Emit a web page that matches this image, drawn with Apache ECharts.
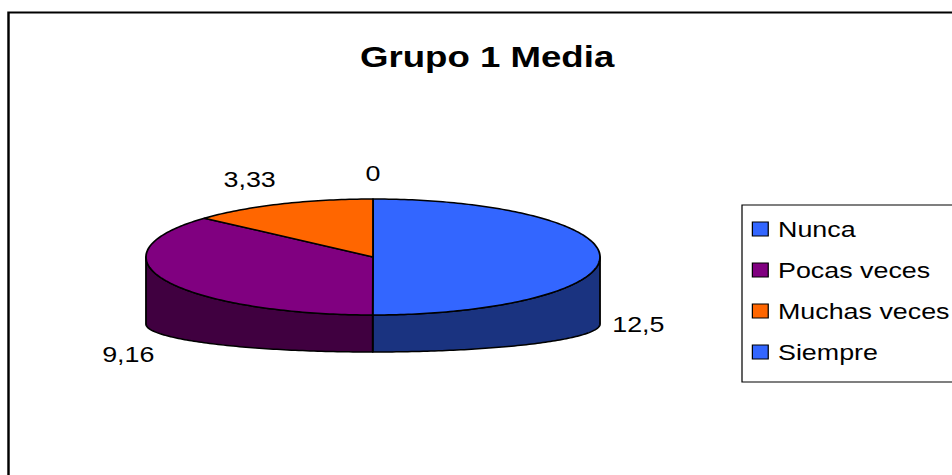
<!DOCTYPE html>
<html>
<head>
<meta charset="utf-8">
<script src="https://cdn.jsdelivr.net/npm/echarts@6/dist/echarts.min.js"></script>
<style>
  html, body { margin: 0; padding: 0; background: #fff; overflow: hidden; }
  #wrap { width: 952px; height: 475px; overflow: hidden; position: relative; }
  /* the chart is laid out on a narrower canvas and widened horizontally */
  #chart { width: 780px; height: 475px; transform: scaleX(1.2205); transform-origin: 0 0; }
</style>
</head>
<body>
<div id="wrap"><div id="chart"></div></div>
<script>
// ---- data ----
const titleText = 'Grupo 1 Media';
const categories = ['Nunca', 'Pocas veces', 'Muchas veces', 'Siempre'];
const values = [12.5, 9.16, 3.33, 0];
const topColors = ['#3366FF', '#800080', '#FF6600', '#3366FF'];
const sideColors = ['#1A3380', '#400040', '#803300', '#1A3380'];

// ---- 3D pie geometry (layout units of the chart canvas) ----
const SX = 1.2205;
const PIE = { cx: 373 / SX, rx: 227 / SX, cy: 257, ry: 58, cyBottom: 324, ryBottom: 28 };
const FONT = 'Liberation Sans, Arial, sans-serif';

const total = values.reduce((a, b) => a + b, 0);
const starts = [];
values.reduce((acc, v, i) => { starts[i] = acc; return acc + v; }, 0);

// angle measured clockwise from 12 o'clock
function topPt(a) { return [PIE.cx + PIE.rx * Math.sin(a), PIE.cy - PIE.ry * Math.cos(a)]; }
function botPt(a) { return [PIE.cx + PIE.rx * Math.sin(a), PIE.cyBottom - PIE.ryBottom * Math.cos(a)]; }
function arc(fn, a, b) {
  const n = Math.max(2, Math.ceil(Math.abs(b - a) / (Math.PI / 180)));
  const pts = [];
  for (let k = 0; k <= n; k++) pts.push(fn(a + (b - a) * k / n));
  return pts;
}
function fmt(v) { return String(v).replace('.', ','); }

function makeRender(i) {
  return function (params, api) {
    const v = api.value(0);
    const a0 = starts[i] / total * Math.PI * 2;
    const a1 = (starts[i] + v) / total * Math.PI * 2;
    const children = [];
    if (v > 0) {
      // visible side wall (front half of the disc)
      const fa = Math.max(a0, Math.PI / 2), fb = Math.min(a1, Math.PI * 1.5);
      if (fb > fa) {
        const pts = arc(topPt, fa, fb).concat(arc(botPt, fb, fa));
        children.push({
          type: 'polygon', z2: 1, shape: { points: pts },
          style: { fill: sideColors[i], stroke: '#000', lineWidth: 1.5, lineJoin: 'round' }
        });
      }
      // top face
      const tp = [[PIE.cx, PIE.cy]].concat(arc(topPt, a0, a1));
      children.push({
        type: 'polygon', z2: 2, shape: { points: tp },
        style: { fill: topColors[i], stroke: '#000', lineWidth: 1.5, lineJoin: 'round' }
      });
    }
    // value label outside the slice
    const mid = (a0 + a1) / 2;
    const s = Math.sin(mid), c = Math.cos(mid);
    const anchor = c < 0.01 ? botPt(mid) : topPt(mid);
    children.push({
      type: 'text', z2: 3,
      x: anchor[0] + s * 10, y: anchor[1] - c * 15 + (c < -0.3 ? 2 : 0),
      style: {
        text: fmt(v), font: '22px ' + FONT, fill: '#000',
        align: s > 0.3 ? 'left' : (s < -0.3 ? 'right' : 'center'),
        verticalAlign: c > 0.3 ? 'bottom' : (c < -0.3 ? 'top' : 'middle')
      }
    });
    return { type: 'group', children: children };
  };
}

const chart = echarts.init(document.getElementById('chart'), null, { renderer: 'svg' });
chart.setOption({
  animation: false,
  backgroundColor: '#fff',
  title: {
    text: titleText, left: 481 / SX, top: 37, textAlign: 'center',
    textStyle: { fontFamily: FONT, fontSize: 30, fontWeight: 'bold', color: '#000' }
  },
  graphic: [{
    type: 'rect', silent: true,
    shape: { x: 8.5 / SX, y: 12.5, width: 2000, height: 1000 },
    style: { fill: 'none', stroke: '#000', lineWidth: 2 }
  }],
  legend: {
    data: categories, orient: 'vertical', left: 742 / SX, top: 205,
    padding: [12, 20, 18, 8], itemGap: 17, itemWidth: 13, itemHeight: 14,
    icon: 'rect', selectedMode: false,
    itemStyle: { borderColor: '#000', borderWidth: 1 },
    textStyle: { fontFamily: FONT, fontSize: 22, color: '#000', lineHeight: 24, padding: [0, 0, 0, 3] },
    borderColor: '#000', borderWidth: 1
  },
  series: categories.map((name, i) => ({
    type: 'custom', name: name, coordinateSystem: 'none',
    itemStyle: { color: topColors[i] },
    data: [[values[i]]],
    renderItem: makeRender(i)
  }))
});
</script>
</body>
</html>
